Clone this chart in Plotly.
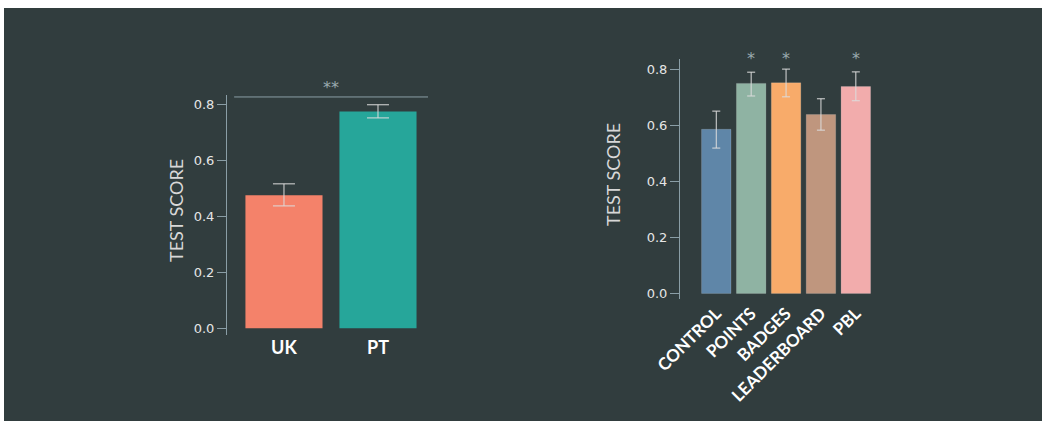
import plotly.graph_objects as go

# ---- data ----
left_cats = ["UK", "PT"]
left_vals = [0.476, 0.776]
left_err_hi = [0.517, 0.800]
left_err_lo = [0.438, 0.753]
left_colors = ["#f4826a", "#26a69a"]

right_cats = ["CONTROL", "POINTS", "BADGES", "LEADERBOARD", "PBL"]
right_vals = [0.586, 0.750, 0.752, 0.639, 0.739]
right_err_hi = [0.651, 0.790, 0.801, 0.695, 0.791]
right_err_lo = [0.519, 0.705, 0.702, 0.583, 0.688]
right_colors = ["#5f86a8", "#8fb3a3", "#f8ab6a", "#bf967e", "#f2acac"]
right_sig = ["", "*", "*", "", "*"]

y_ticks = [0.0, 0.2, 0.4, 0.6, 0.8]
y_ticklabels = ["0.0", "0.2", "0.4", "0.6", "0.8"]

BG = "#313d3e"
AXC = "#8a9ea6"
FONT = "Lato"
TICKFONT = "DejaVu Sans"
W, H = 1042, 421

fig = go.Figure()

fig.add_trace(go.Bar(
    x=left_cats, y=left_vals, marker=dict(color=left_colors, line=dict(width=0)),
    width=0.82, xaxis="x", yaxis="y",
    error_y=dict(type="data", symmetric=False,
                 array=[h - v for h, v in zip(left_err_hi, left_vals)],
                 arrayminus=[v - l for l, v in zip(left_err_lo, left_vals)],
                 color="#dcdcdc", thickness=1, width=11),
    showlegend=False, hoverinfo="skip"))

fig.add_trace(go.Bar(
    x=right_cats, y=right_vals, marker=dict(color=right_colors, line=dict(width=1, color="rgba(255,255,255,0.15)")),
    width=0.845, xaxis="x2", yaxis="y2",
    error_y=dict(type="data", symmetric=False,
                 array=[h - v for h, v in zip(right_err_hi, right_vals)],
                 arrayminus=[v - l for l, v in zip(right_err_lo, right_vals)],
                 color="#dcdcdc", thickness=1, width=4),
    showlegend=False, hoverinfo="skip"))

def px(x):
    return x / W

def py(y):
    return (H - y) / H

yax_common = dict(
    tickvals=y_ticks, ticktext=y_ticklabels, showgrid=False, zeroline=False,
    showline=True, linecolor=AXC, linewidth=1, ticks="outside", ticklen=9,
    tickcolor=AXC, tickfont=dict(family=TICKFONT, size=13, color="#e6e6e6"),
    automargin=False,
)
xax_common = dict(showgrid=False, zeroline=False, showline=False, ticks="", automargin=False)

fig.update_layout(
    width=W, height=H, margin=dict(l=0, r=0, t=0, b=0, pad=0, autoexpand=False),
    paper_bgcolor="white", plot_bgcolor="rgba(0,0,0,0)",
    xaxis=dict(domain=[px(227), px(428)], range=[-0.606, 1.532],
               tickfont=dict(family=FONT, size=18, color="white", weight="bold"),
               **xax_common),
    yaxis=dict(domain=[py(335), py(95)], range=[-0.024, 0.835], anchor="x",
               **yax_common),
    xaxis2=dict(domain=[px(680), px(882)], range=[-1.04, 4.75], tickangle=-45,
                tickfont=dict(family=FONT, size=17, color="white", weight="bold"),
                anchor="y2", **xax_common),
    yaxis2=dict(domain=[py(299.3), py(59.3)], range=[-0.021, 0.836], anchor="x2",
                **yax_common),
)

# background panel
fig.add_shape(type="rect", xref="paper", yref="paper", x0=px(4), x1=1, y0=0, y1=py(8),
              fillcolor=BG, line=dict(width=0), layer="below")

# significance line (left)
fig.add_shape(type="line", xref="x", yref="y", x0=-0.53, x1=1.532, y0=0.828, y1=0.828,
              line=dict(color=AXC, width=1))
fig.add_annotation(x=0.5, y=py(76), xref="x", yref="paper", text="**", showarrow=False,
                   font=dict(family="DejaVu Sans", size=16, color="#9aaaae"))

# significance stars (right)
for c, s in zip(right_cats, right_sig):
    if s:
        fig.add_annotation(x=c, y=py(47), xref="x2", yref="paper", text=s, showarrow=False,
                           font=dict(family="DejaVu Sans", size=16, color="#9aaaae"))

# y-axis titles
fig.add_annotation(x=px(163), y=py(211), xref="paper", yref="paper", text="TEST SCORE",
                   textangle=-90, showarrow=False,
                   font=dict(family=FONT, size=18, color="#d8d8d8"))
fig.add_annotation(x=px(613), y=py(175), xref="paper", yref="paper", text="TEST SCORE",
                   textangle=-90, showarrow=False,
                   font=dict(family=FONT, size=18, color="#d8d8d8"))

fig.write_html("out.html")
